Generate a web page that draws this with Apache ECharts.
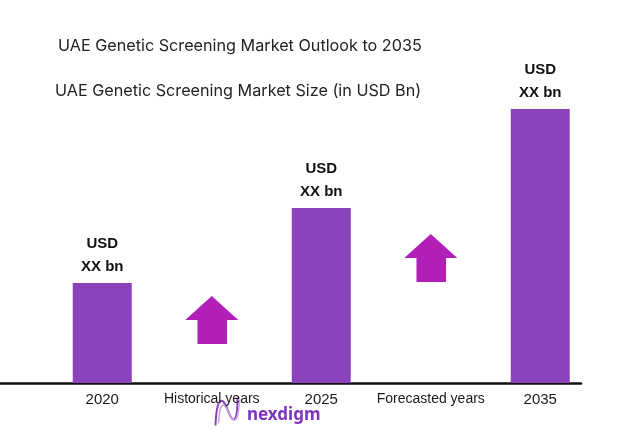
<!DOCTYPE html>
<html>
<head>
<meta charset="utf-8">
<script src="https://cdn.jsdelivr.net/npm/echarts@6/dist/echarts.min.js"></script>
<style>
html,body{margin:0;padding:0;background:#fff;}
#chart{width:631px;height:447px;}
</style>
</head>
<body>
<div id="chart"></div>
<script>
// ---- data ----
const titleMain = 'UAE Genetic Screening Market Outlook to 2035';
const titleSub = 'UAE Genetic Screening Market Size (in USD Bn)';
const categories = ['2020', 'Historical years', '2025', 'Forecasted years', '2035'];
const marketSize = [1.00, '-', 1.75, '-', 2.74];
const barLabels = ['USD\nXX bn', '', 'USD\nXX bn', '', 'USD\nXX bn'];
const arrowLevels = ['-', 0.63, '-', 1.25, '-'];
const brandName = 'nexdigm';

const chart = echarts.init(document.getElementById('chart'));
const arrowPath = 'path://M26,0 L52,24 L41,24 L41,48 L12,48 L12,24 L0,24 Z';

chart.setOption({
  backgroundColor: '#ffffff',
  animation: false,
  title: [
    { text: titleMain, left: 58, top: 38, padding: 0,
      textStyle: { fontFamily: 'Inter', fontSize: 16.2, fontWeight: 'normal', color: '#222' } },
    { text: titleSub, left: 55, top: 83, padding: 0,
      textStyle: { fontFamily: 'Inter', fontSize: 16.2, fontWeight: 'normal', color: '#222' } },
    { text: brandName, left: 242, top: 402,
      textStyle: { fontFamily: 'Noto Sans', fontSize: 17, fontWeight: 'bold', color: '#7E33BF' } }
  ],
  grid: [
    { left: 47.5, right: 36, bottom: 64, top: 83 },
    { left: 0, right: 50, bottom: 64, height: 10 }
  ],
  xAxis: [
    {
      type: 'category', gridIndex: 0, data: categories,
      axisLine: { show: false }, axisTick: { show: false },
      axisLabel: {
        margin: 9, interval: 0,
        formatter: function (v) { return /^\d+$/.test(v) ? '{y|' + v + '}' : '{t|' + v + '}'; },
        rich: {
          y: { fontFamily: 'Liberation Sans', fontSize: 15, color: '#1a1a1a' },
          t: { fontFamily: 'Liberation Sans', fontSize: 14, color: '#1a1a1a' }
        }
      }
    },
    {
      type: 'category', gridIndex: 1, data: [''],
      axisLine: { show: true, lineStyle: { color: '#111', width: 2.5 } },
      axisTick: { show: false }, axisLabel: { show: false }
    }
  ],
  yAxis: [
    { type: 'value', gridIndex: 0, min: 0, max: 3, show: false },
    { type: 'value', gridIndex: 1, show: false }
  ],
  series: [
    {
      type: 'bar', xAxisIndex: 0, yAxisIndex: 0, data: marketSize, barWidth: 59,
      itemStyle: { color: '#8A43BA' }, z: 1,
      label: {
        show: true, position: 'top', distance: 5,
        formatter: function (p) { return barLabels[p.dataIndex]; },
        fontFamily: 'Liberation Sans', fontSize: 15, fontWeight: 'bold',
        lineHeight: 23, color: '#111'
      }
    },
    {
      type: 'scatter', xAxisIndex: 0, yAxisIndex: 0, data: arrowLevels,
      symbol: arrowPath, symbolSize: [53, 48], symbolKeepAspect: false,
      itemStyle: { color: '#B11FB8', opacity: 1 }, z: 3
    }
  ],
  graphic: [
    {
      type: 'group', left: 213, top: 395,
      children: [
        { type: 'bezierCurve', shape: { x1: 0, y1: 30, cpx1: 1, cpy1: 4, cpx2: 6, cpy2: -2, x2: 12, y2: 14 },
          style: { stroke: '#8A43BA', fill: null, lineWidth: 2 } },
        { type: 'bezierCurve', shape: { x1: 12, y1: 14, cpx1: 17, cpy1: 28, cpx2: 22, cpy2: 30, x2: 22, y2: 2 },
          style: { stroke: '#8A43BA', fill: null, lineWidth: 2 } },
        { type: 'bezierCurve', shape: { x1: 3, y1: 28, cpx1: 4, cpy1: 8, cpx2: 8, cpy2: 4, x2: 13, y2: 17 },
          style: { stroke: '#C9A3E3', fill: null, lineWidth: 1.5 } },
        { type: 'bezierCurve', shape: { x1: 13, y1: 17, cpx1: 18, cpy1: 29, cpx2: 23, cpy2: 28, x2: 24, y2: 4 },
          style: { stroke: '#C9A3E3', fill: null, lineWidth: 1.5 } }
      ]
    }
  ]
});
</script>
</body>
</html>
